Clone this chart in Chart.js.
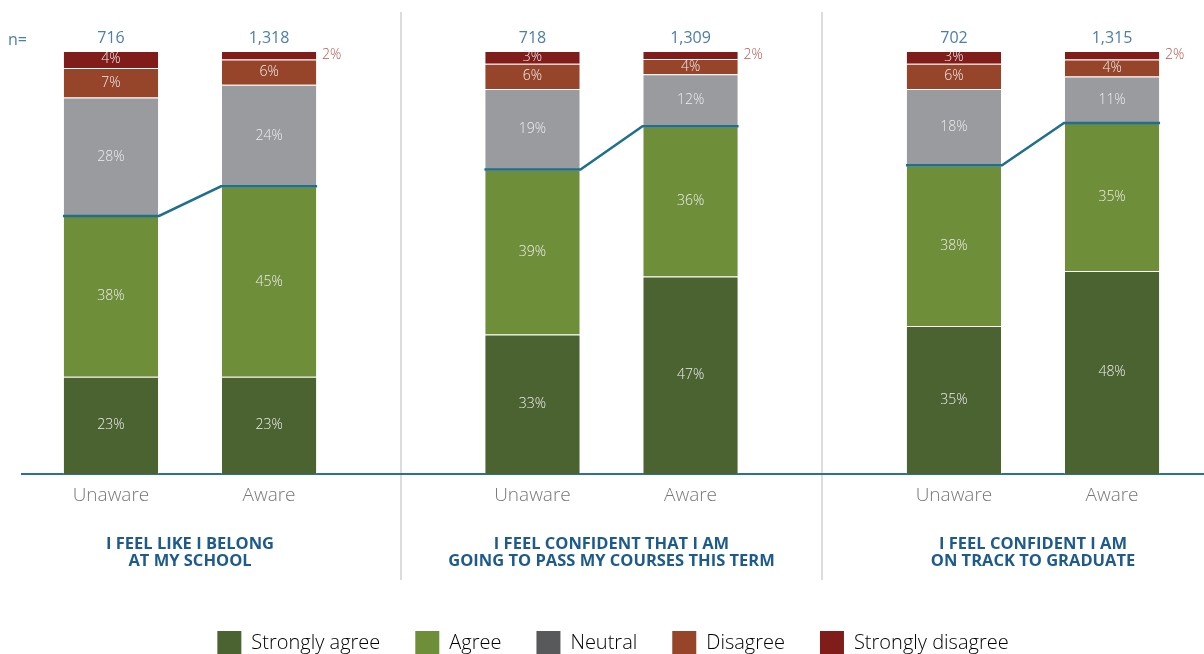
<!DOCTYPE html>
<html>
<head>
<meta charset="utf-8">
<script src="https://cdn.jsdelivr.net/npm/chart.js@4"></script>
<style>
  body { margin: 0; background: #fff; overflow: hidden; }
  #wrap { width: 1204px; height: 654px; position: relative; }
</style>
</head>
<body>
<div id="wrap"><canvas id="chart"></canvas></div>
<script>
// survey statements (x groups) and the two bars per group
const groupTitles = [
  ['I FEEL LIKE I BELONG', 'AT MY SCHOOL'],
  ['I FEEL CONFIDENT THAT I AM', 'GOING TO PASS MY COURSES THIS TERM'],
  ['I FEEL CONFIDENT I AM', 'ON TRACK TO GRADUATE']
];
const awareness = ['Unaware', 'Aware'];
const nUnaware = [716, 718, 702];
const nAware = [1318, 1309, 1315];
const levels = ['Strongly agree', 'Agree', 'Neutral', 'Disagree', 'Strongly disagree'];

// percentages, bottom to top
const unawareStronglyAgree = [23, 33, 35];
const unawareAgree = [38, 39, 38];
const unawareNeutral = [28, 19, 18];
const unawareDisagree = [7, 6, 6];
const unawareStronglyDisagree = [4, 3, 3];

const awareStronglyAgree = [23, 46.7, 48];
const awareAgree = [45, 35.5, 35];
const awareNeutral = [24, 12.3, 11];
const awareDisagree = [6, 3.6, 4];
const awareStronglyDisagree = [2, 1.9, 2];

const FONT = '"Open Sans", "DejaVu Sans", sans-serif';
const barColors = ['#4a6331', '#6e8e3a', '#9a9b9f', '#96452a', '#801d1b'];
const legendColors = ['#4a6331', '#6e8e3a', '#58595b', '#96452a', '#801d1b'];

const seriesByStack = {
  Unaware: [unawareStronglyAgree, unawareAgree, unawareNeutral, unawareDisagree, unawareStronglyDisagree],
  Aware: [awareStronglyAgree, awareAgree, awareNeutral, awareDisagree, awareStronglyDisagree]
};
const countsByStack = { Unaware: nUnaware, Aware: nAware };

const datasets = [];
awareness.forEach(stack => {
  seriesByStack[stack].forEach((values, k) => {
    datasets.push({
      label: levels[k],
      stack: stack,
      data: values.map((v, i) => ({ x: i, y: v })),
      backgroundColor: barColors[k],
      borderColor: 'rgba(255,255,255,0.22)',
      borderWidth: 1,
      categoryPercentage: 0.75,
      barPercentage: 0.608
    });
  });
});

const overlay = {
  id: 'overlay',
  beforeDraw(chart) {
    const ctx = chart.ctx, xs = chart.scales.x;
    ctx.save();
    ctx.strokeStyle = '#dcdcdc';
    ctx.lineWidth = 2;
    [0.5, 1.5].forEach(v => {
      const px = Math.round(xs.getPixelForValue(v));
      ctx.beginPath();
      ctx.moveTo(px, 12);
      ctx.lineTo(px, 580);
      ctx.stroke();
    });
    ctx.restore();
  },
  afterDatasetsDraw(chart) {
    const ctx = chart.ctx;
    ctx.save();
    ctx.textAlign = 'center';
    ctx.textBaseline = 'middle';

    // percentage labels
    chart.data.datasets.forEach((ds, di) => {
      const meta = chart.getDatasetMeta(di);
      meta.data.forEach((bar, i) => {
        const v = ds.data[i].y;
        const txt = Math.round(v) + '%';
        const midY = (bar.y + bar.base) / 2;
        ctx.font = '300 14px ' + FONT;
        if (v < 2.5) {
          ctx.fillStyle = '#b5574f';
          ctx.textAlign = 'left';
          ctx.fillText(txt, bar.x + bar.width / 2 + 5, midY);
          ctx.textAlign = 'center';
        } else {
          ctx.fillStyle = '#ececec';
          ctx.fillText(txt, bar.x, midY);
        }
      });
    });

    // line joining the tops of the agree segments
    const agreeU = chart.getDatasetMeta(1), agreeA = chart.getDatasetMeta(6);
    ctx.strokeStyle = '#1f6f8e';
    ctx.lineWidth = 2.5;
    agreeU.data.forEach((bu, i) => {
      const ba = agreeA.data[i];
      ctx.beginPath();
      ctx.moveTo(bu.x - bu.width / 2, bu.y);
      ctx.lineTo(bu.x + bu.width / 2, bu.y);
      ctx.lineTo(ba.x - ba.width / 2, ba.y);
      ctx.lineTo(ba.x + ba.width / 2, ba.y);
      ctx.stroke();
    });

    // n counts and bar labels
    const top = chart.chartArea.top, bottom = chart.chartArea.bottom;
    awareness.forEach((stack, s) => {
      const meta = chart.getDatasetMeta(s * 5);
      meta.data.forEach((bar, i) => {
        ctx.font = '16px ' + FONT;
        ctx.fillStyle = '#4d7dab';
        ctx.fillText(countsByStack[stack][i].toLocaleString('en-US'), bar.x, top - 13);
        ctx.font = '300 19px ' + FONT;
        ctx.fillStyle = '#777777';
        ctx.fillText(stack, bar.x, bottom + 22);
      });
    });
    ctx.font = '16px ' + FONT;
    ctx.fillStyle = '#4d7dab';
    ctx.textAlign = 'left';
    ctx.fillText('n=', 8, top - 11);
    ctx.restore();
  }
};

new Chart(document.getElementById('chart'), {
  type: 'bar',
  data: { datasets: datasets },
  options: {
    responsive: true,
    maintainAspectRatio: false,
    animation: false,
    layout: { padding: { left: 22, right: 0, top: 51, bottom: -11 } },
    scales: {
      x: {
        type: 'linear',
        stacked: true,
        offset: false,
        min: -0.3986,
        max: 2.4057,
        afterBuildTicks: s => { s.ticks = groupTitles.map((t, i) => ({ value: i })); },
        afterFit: s => { s.height = 122; },
        grid: { display: false, drawTicks: false },
        border: { display: true, color: '#2a7194', width: 2 },
        ticks: {
          callback: v => groupTitles[v],
          autoSkip: false,
          maxRotation: 0,
          padding: 62,
          color: '#1d5b8c',
          font: { family: FONT, size: 16.5, weight: 'bold', lineHeight: 1.04 }
        }
      },
      y: { stacked: true, min: 0, max: 100, display: false }
    },
    plugins: {
      tooltip: { enabled: false },
      legend: {
        position: 'bottom',
        labels: {
          boxWidth: 24,
          boxHeight: 24,
          padding: 35,
          color: '#58595b',
          font: { family: FONT, size: 20, weight: '300' },
          generateLabels: () => levels.map((t, k) => ({
            text: t, fillStyle: legendColors[k], strokeStyle: legendColors[k],
            lineWidth: 0, hidden: false, datasetIndex: k
          }))
        }
      }
    }
  },
  plugins: [overlay]
});
</script>
</body>
</html>
